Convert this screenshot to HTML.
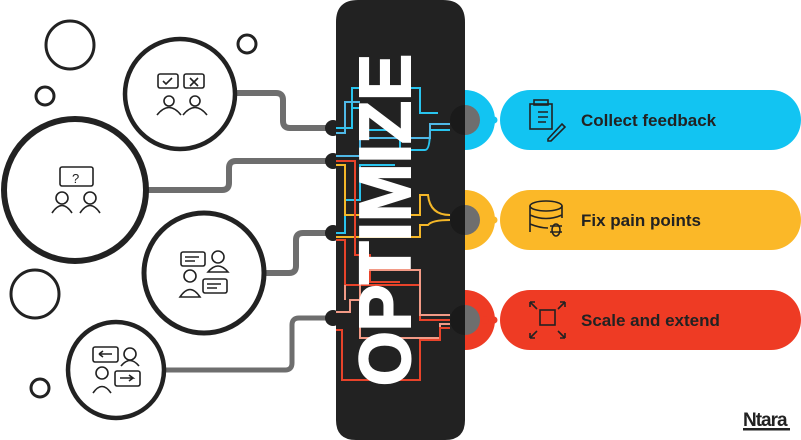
<!DOCTYPE html>
<html><head><meta charset="utf-8"><style>
html,body{margin:0;padding:0;background:#fff;width:801px;height:440px;overflow:hidden}
svg{display:block}
</style></head><body>
<svg width="801" height="440" viewBox="0 0 801 440" xmlns="http://www.w3.org/2000/svg">
<g fill="none" stroke="#6e6e6e" stroke-width="6" stroke-linejoin="round">
<path d="M237 93 H276 Q283 93 283 100 V121 Q283 128 290 128 H333"/>
<path d="M148 190 H222 Q229 190 229 183 V168 Q229 161 236 161 H333"/>
<path d="M265 273 H289 Q296 273 296 266 V240 Q296 233 303 233 H333"/>
<path d="M165 370 H285 Q292 370 292 363 V325 Q292 318 299 318 H333" stroke-width="5"/>
</g>
<g fill="#fff" stroke="#222" stroke-width="4">
<circle cx="70" cy="45" r="24" stroke-width="3"/>
<circle cx="45" cy="96" r="9" stroke-width="3"/>
<circle cx="247" cy="44" r="9" stroke-width="3"/>
<circle cx="35" cy="294" r="24" stroke-width="3"/>
<circle cx="40" cy="388" r="9" stroke-width="3"/>
<circle cx="180" cy="94" r="55" stroke-width="4.5"/>
<circle cx="75" cy="190" r="71" stroke-width="6"/>
<circle cx="204" cy="273" r="60" stroke-width="5"/>
<circle cx="116" cy="370" r="48" stroke-width="4.5"/>
</g>
<path d="M336 22 Q336 0 358 0 H443 Q465 0 465 22 V420 Q465 440 445 440 H356 Q336 440 336 420 Z" fill="#222"/>
<g fill="#222"><circle cx="333" cy="128" r="8"/><circle cx="333" cy="161" r="8"/><circle cx="333" cy="233" r="8"/><circle cx="333" cy="318" r="8"/></g>
<g fill="none" stroke-width="2">
<path d="M336 128 H352 V88 H420 V113 H438 M352 108 H365 V130 H400 V150 H425 Q430 150 430 130 H450" stroke="#29c4ee"/>
<path d="M336 133 H345 V102 H360 M336 156 H360 V138 H430 V124 H450" stroke="#4fb8e6"/>
<path d="M336 233 H345 V200 H360 V165 H395" stroke="#29c4ee"/>
<path d="M336 165 H345 V215 H420 V195 H428 Q430 215 450 215 M336 237 H420 V225 H428 Q432 220 450 220" stroke="#f4b728"/>
<path d="M336 161 H355 V255 H370 V282 H400 M336 240 H345 V285 H420 V320 H450" stroke="#e8432a"/>
<path d="M336 312 H350 V300 H360 V338 H440 V324 H450 M345 300 V285 M360 300 V270 H420 V315 H450" stroke="#f29a86"/>
<path d="M336 330 H342 V380 H420 V340 H440 V328 H450" stroke="#e8432a"/>
</g>
<text transform="translate(410,386) rotate(-90)" x="0" y="0" font-family="Liberation Sans, sans-serif" font-weight="bold" font-size="72" fill="#fff" stroke="#fff" stroke-width="2" textLength="332" lengthAdjust="spacingAndGlyphs">OPTIMIZE</text>
<g>
<path d="M465 90 A30 30 0 0 1 465 150 Z" fill="#12c4f2"/>
<path d="M465 190 A30 30 0 0 1 465 250 Z" fill="#fbb828"/>
<path d="M465 290 A30 30 0 0 1 465 350 Z" fill="#ee3b24"/>
<g fill="#6e6e6e"><path d="M465 105 A15 15 0 0 1 465 135Z"/><path d="M465 205 A15 15 0 0 1 465 235Z"/><path d="M465 305 A15 15 0 0 1 465 335Z"/></g>
<g fill="#1a1a1a"><path d="M465 105 A15 15 0 0 0 465 135Z"/><path d="M465 205 A15 15 0 0 0 465 235Z"/><path d="M465 305 A15 15 0 0 0 465 335Z"/></g>
<g fill="#12c4f2"><circle cx="485" cy="120" r="3.5"/><circle cx="494" cy="120" r="3.5"/></g>
<g fill="#fbb828"><circle cx="485" cy="220" r="3.5"/><circle cx="494" cy="220" r="3.5"/></g>
<g fill="#ee3b24"><circle cx="485" cy="320" r="3.5"/><circle cx="494" cy="320" r="3.5"/></g>
<rect x="500" y="90" width="301" height="60" rx="30" fill="#12c4f2"/>
<rect x="500" y="190" width="301" height="60" rx="30" fill="#fbb828"/>
<rect x="500" y="290" width="301" height="60" rx="30" fill="#ee3b24"/>
</g>
<g fill="none" stroke="#222" stroke-width="1.6">
<rect x="530" y="104" width="22" height="25"/><rect x="534" y="100" width="14" height="5"/>
<path d="M538 112 H548 M538 117 H548 M538 122 H546 M548 139 L562 124 L565 127 L551 141 L548 141Z"/>
<ellipse cx="546" cy="206" rx="16" ry="5"/><path d="M530 206 V232 M562 206 V218 M530 215 Q546 222 562 215 M530 224 Q540 228 548 228"/>
<ellipse cx="556" cy="230" rx="4" ry="6"/><path d="M550 226 H562 M550 232 H562"/>
<rect x="540" y="310" width="15" height="15"/>
<path d="M530 302 L537 309 M530 302 H535 M530 302 V307 M565 302 L558 309 M565 302 H560 M565 302 V307 M530 338 L537 331 M530 338 H535 M530 338 V333 M565 338 L558 331 M565 338 H560 M565 338 V333"/>
</g>
<g font-family="Liberation Sans, sans-serif" font-weight="bold" font-size="17" fill="#222">
<text x="581" y="126">Collect feedback</text>
<text x="581" y="226">Fix pain points</text>
<text x="581" y="326">Scale and extend</text>
</g>
<text x="743" y="426" font-family="Liberation Sans, sans-serif" font-weight="bold" font-size="19" fill="#222" letter-spacing="-1">Ntara</text>
<rect x="743" y="428" width="47" height="2.5" fill="#222"/>
<g fill="none" stroke="#222" stroke-width="1.6">
<rect x="158" y="74" width="20" height="14" rx="2"/><rect x="184" y="74" width="20" height="14" rx="2"/>
<path d="M163 81 l3 3 l6 -6 M190 78 l8 8 M198 78 l-8 8"/>
<circle cx="169" cy="101" r="5"/><circle cx="195" cy="101" r="5"/>
<path d="M157 115 Q169 100 181 115 M183 115 Q195 100 207 115"/>
<rect x="60" y="167" width="33" height="19" rx="2"/>
<text x="72" y="183" font-family="Liberation Sans" font-size="13" fill="#222" stroke="none">?</text>
<circle cx="62" cy="198" r="6"/><circle cx="90" cy="198" r="6"/>
<path d="M52 213 Q62 198 72 213 M80 213 Q90 198 100 213"/>
<rect x="181" y="252" width="24" height="14" rx="2"/><path d="M185 257 H199 M185 261 H195"/>
<circle cx="218" cy="257" r="6"/><path d="M208 272 Q218 260 228 272 Z"/>
<circle cx="190" cy="276" r="6"/><path d="M180 297 Q190 282 200 297 Z"/>
<rect x="203" y="279" width="24" height="14" rx="2"/><path d="M207 284 H221 M207 288 H217"/>
<rect x="93" y="347" width="25" height="15" rx="2"/><path d="M99 354 H112 M99 354 l4 -3 M99 354 l4 3"/>
<circle cx="130" cy="354" r="6"/><path d="M121 366 Q130 355 139 366"/>
<circle cx="102" cy="373" r="6"/><path d="M93 393 Q102 380 111 393"/>
<rect x="115" y="371" width="25" height="15" rx="2"/><path d="M120 378 H133 l-4 -3 M133 378 l-4 3"/>
</g>
</svg>
</body></html>
